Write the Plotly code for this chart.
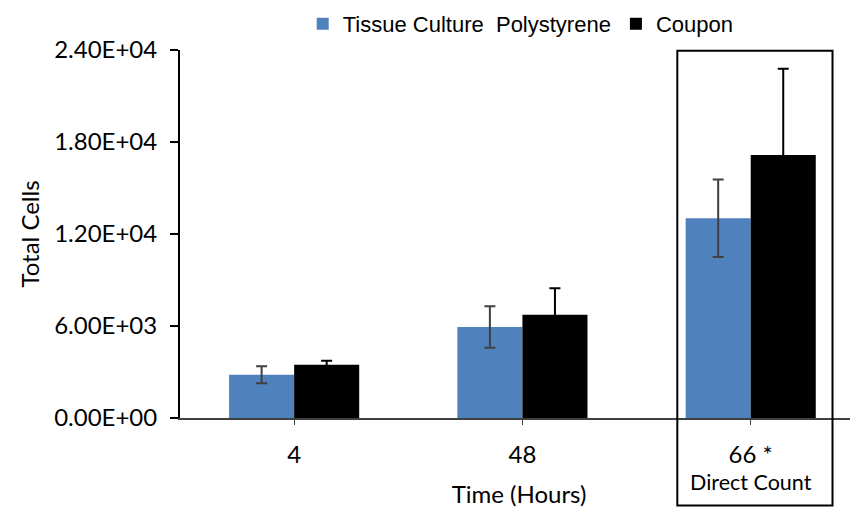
import plotly.graph_objects as go

categories = ["4", "48", "66 *"]
tcp_values = [2820, 5930, 13030]
tcp_errors = [550, 1350, 2530]
coupon_values = [3470, 6730, 17150]
coupon_errors = [260, 1740, 5620]
y_tickvals = [0, 6000, 12000, 18000, 24000]
y_ticktext = ["0.00E+00", "6.00E+03", "1.20E+04", "1.80E+04", "2.40E+04"]

FONT = "Lato"

fig = go.Figure()
fig.add_trace(go.Bar(
    x=categories, y=tcp_values, name="Tissue Culture  Polystyrene",
    marker=dict(color="#4F81BD", line=dict(width=0)),
    error_y=dict(type="data", array=tcp_errors, color="#404040", thickness=2, width=5.5),
))
fig.add_trace(go.Bar(
    x=categories, y=coupon_values, name="Coupon",
    marker=dict(color="#000000", line=dict(width=0)),
    error_y=dict(type="data", array=coupon_errors, color="#000000", thickness=2, width=5.5),
))

# the page body adds an 8px offset, so the figure is sized 850x500
fig.update_layout(
    width=850, height=500,
    margin=dict(l=172, r=0, t=42, b=90, autoexpand=False),
    plot_bgcolor="white", paper_bgcolor="white",
    barmode="group", bargap=0.43, bargroupgap=0,
    font=dict(family=FONT, size=24, color="black"),
    showlegend=True,
    legend=dict(
        orientation="h", x=0.181, y=1.071, xanchor="left", yanchor="middle",
        font=dict(family="Liberation Sans", size=22, color="black"),
        itemclick=False, traceorder="normal",
        bgcolor="rgba(0,0,0,0)",
    ),
    xaxis=dict(
        range=[-0.5, 2.47], automargin=False,
        showline=True, linecolor="#404040", linewidth=2,
        ticks="outside", ticklen=5, tickwidth=1, tickcolor="#404040",
        tickfont=dict(family=FONT, size=24),
        ticklabelstandoff=9,
        title=dict(text="Time (Hours)", font=dict(family=FONT, size=24), standoff=19),
        showgrid=False, zeroline=False,
    ),
    yaxis=dict(
        range=[0, 24000], automargin=False,
        tickvals=y_tickvals, ticktext=y_ticktext,
        showline=True, linecolor="black", linewidth=2,
        ticks="outside", ticklen=8, tickwidth=2, tickcolor="black",
        tickfont=dict(family=FONT, size=24),
        ticklabelstandoff=8,
        title=dict(text="Total Cells", font=dict(family=FONT, size=24), standoff=8),
        showgrid=False, zeroline=False,
    ),
)

# box highlighting the direct-count group
fig.add_shape(type="rect", xref="paper", yref="paper",
              x0=0.7335, x1=0.9624, y0=-0.238, y1=0.998,
              line=dict(color="black", width=2), fillcolor="rgba(0,0,0,0)", layer="above")

fig.add_annotation(x=2, y=-0.173, xref="x", yref="paper", text="Direct Count",
                   showarrow=False, font=dict(family=FONT, size=21.5, color="black"),
                   yanchor="middle")

fig.write_html("out.html")
